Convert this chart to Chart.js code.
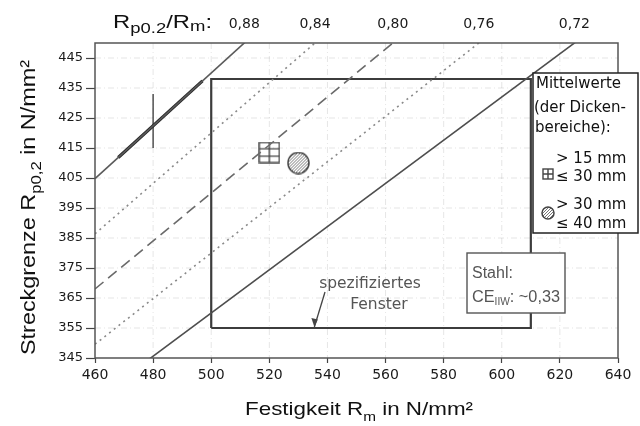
<!DOCTYPE html>
<html>
<head>
<meta charset="utf-8">
<script src="https://cdn.jsdelivr.net/npm/chart.js@4.4.1/dist/chart.umd.min.js"></script>
<style>
  html, body { margin: 0; padding: 0; background: #fff; }
  #wrap { width: 640px; height: 426px; }
</style>
</head>
<body>
<div id="wrap"><canvas id="myChart" width="640" height="426"></canvas></div>
<script>
// axis ranges and ticks
const xTicks = [460, 480, 500, 520, 540, 560, 580, 600, 620, 640];
const yTicks = [345, 355, 365, 375, 385, 395, 405, 415, 425, 435, 445];
const xMin = 460, xMax = 640, yMin = 345, yMax = 450;

// lines of constant yield ratio Rp0.2/Rm
const ratios = [0.88, 0.84, 0.80, 0.76, 0.72];
const ratioLabels = ['0,88', '0,84', '0,80', '0,76', '0,72'];

// specified window (Rm from..to, Rp0.2 from..to)
const windowRm = [500, 610];
const windowRp = [355, 438];

// mean values of the thickness ranges
const meanRm = [520, 530];
const meanRp = [413.5, 410];

// darker stretch on the 0.88 line and the short bar at 480
const boldRm = [468, 497];
const barRm = [480, 480];
const barRp = [415, 433];

const FONT = '"Liberation Sans", Arial, sans-serif';
const WIDE = '"DejaVu Sans", sans-serif';
const ratioColor = ['#5a5a5a', '#8a8a8a', '#6a6a6a', '#8a8a8a', '#4e4e4e'];
const ratioDash = [[], [2, 4], [11, 6], [2, 4], []];

// marker images
function squareIcon(s, rows) {
  const c = document.createElement('canvas');
  c.width = s; c.height = s;
  const g = c.getContext('2d');
  g.strokeStyle = '#444'; g.lineWidth = 1.4;
  g.strokeRect(1, 1, s - 2, s - 2);
  g.beginPath();
  g.moveTo(s / 2, 1); g.lineTo(s / 2, s - 1);
  for (let i = 1; i < rows; i++) {
    g.moveTo(1, s * i / rows); g.lineTo(s - 1, s * i / rows);
  }
  g.stroke();
  return c;
}
function circleIcon(s) {
  const c = document.createElement('canvas');
  c.width = s; c.height = s;
  const g = c.getContext('2d');
  const r = s / 2 - 1;
  g.save();
  g.beginPath(); g.arc(s / 2, s / 2, r, 0, Math.PI * 2); g.clip();
  g.strokeStyle = '#777'; g.lineWidth = 1;
  g.beginPath();
  for (let k = -s; k < 2 * s; k += 3) { g.moveTo(k, s); g.lineTo(k + s, 0); }
  g.stroke();
  g.restore();
  g.strokeStyle = '#444'; g.lineWidth = 1.5;
  g.beginPath(); g.arc(s / 2, s / 2, r, 0, Math.PI * 2); g.stroke();
  return c;
}
const bigSquare = squareIcon(22, 3);
const bigCircle = circleIcon(23);
const smallSquare = squareIcon(12, 2);
const smallCircle = circleIcon(14);

// text with subscripts: parts = [[text, size, dy], ...]
function richWidth(ctx, parts, family) {
  let w = 0;
  parts.forEach(p => {
    ctx.font = p[1] + 'px ' + family;
    w += ctx.measureText(p[0]).width;
  });
  return w;
}
// draws the parts stretched to the given width, starting at x
function richText(ctx, parts, family, x, y, width) {
  const w = richWidth(ctx, parts, family);
  const k = width ? width / w : 1;
  ctx.save();
  ctx.translate(x, y);
  ctx.scale(k, 1);
  let cx = 0;
  parts.forEach(p => {
    ctx.font = p[1] + 'px ' + family;
    ctx.fillText(p[0], cx, p[2] || 0);
    cx += ctx.measureText(p[0]).width;
  });
  ctx.restore();
}

const datasets = ratios.map((r, i) => ({
  type: 'line',
  data: [{x: xMin, y: r * xMin}, {x: xMax, y: r * xMax}],
  borderColor: ratioColor[i],
  borderDash: ratioDash[i],
  borderWidth: 1.6,
  pointRadius: 0,
}));

datasets.push({
  type: 'line',
  data: boldRm.map(x => ({x: x, y: ratios[0] * x})),
  borderColor: '#222', borderWidth: 3.2, pointRadius: 0,
});
datasets.push({
  type: 'line',
  data: barRm.map((x, i) => ({x: x, y: barRp[i]})),
  borderColor: '#444', borderWidth: 1.4, pointRadius: 0,
});

datasets.push({
  type: 'line',
  data: [
    {x: windowRm[0], y: windowRp[0]}, {x: windowRm[0], y: windowRp[1]},
    {x: windowRm[1], y: windowRp[1]}, {x: windowRm[1], y: windowRp[0]},
    {x: windowRm[0], y: windowRp[0]}
  ],
  borderColor: '#3c3c3c', borderWidth: 2.2, pointRadius: 0,
});

datasets.push({
  type: 'scatter',
  data: [{x: meanRm[0], y: meanRp[0]}],
  pointStyle: bigSquare, pointRadius: 11,
});
datasets.push({
  type: 'scatter',
  data: [{x: meanRm[1], y: meanRp[1]}],
  pointStyle: bigCircle, pointRadius: 11,
});

const extras = {
  id: 'extras',
  beforeDatasetsDraw(chart) {
    const {ctx, chartArea: a, scales} = chart;
    // faint grid
    ctx.save();
    ctx.strokeStyle = 'rgba(0,0,0,0.10)';
    ctx.lineWidth = 1;
    ctx.setLineDash([6, 3, 1, 3]);
    ctx.beginPath();
    xTicks.slice(1, -1).forEach(v => {
      const px = scales.x.getPixelForValue(v);
      ctx.moveTo(px, a.top); ctx.lineTo(px, a.bottom);
    });
    yTicks.slice(1).forEach(v => {
      const py = scales.y.getPixelForValue(v);
      ctx.moveTo(a.left, py); ctx.lineTo(a.right, py);
    });
    ctx.stroke();
    ctx.restore();
  },
  afterDraw(chart) {
    const {ctx, chartArea: a, scales} = chart;
    const sx = scales.x, sy = scales.y;
    ctx.save();
    // frame
    ctx.strokeStyle = '#555';
    ctx.lineWidth = 1.5;
    ctx.strokeRect(a.left, a.top, a.right - a.left, a.bottom - a.top);

    ctx.fillStyle = '#111';
    ctx.textBaseline = 'alphabetic';
    ctx.textAlign = 'left';

    // top title Rp0.2/Rm:
    richText(ctx, [['R', 18], ['p0.2', 14, 5], ['/R', 18], ['m', 14, 3], [':', 18]], FONT, 113, 28, 99);

    // x axis title
    richText(ctx, [['Festigkeit R', 19], ['m', 13, 6], [' in N/mm²', 19]], FONT, 245, 415, 228);

    // y axis title
    ctx.save();
    ctx.translate(35, 355);
    ctx.rotate(-Math.PI / 2);
    richText(ctx, [['Streckgrenze R', 21], ['p0,2', 15, 6], [' in N/mm²', 21]], FONT, 0, 0, 295);
    ctx.restore();

    // window label and arrow
    ctx.fillStyle = '#555';
    ctx.textAlign = 'center';
    ctx.font = '15.5px ' + WIDE;
    ctx.fillText('spezifiziertes', 370, 288);
    ctx.fillText('Fenster', 379, 309);
    const tipX = sx.getPixelForValue(535.5), tipY = sy.getPixelForValue(windowRp[0]);
    ctx.strokeStyle = '#444';
    ctx.lineWidth = 1.3;
    ctx.beginPath();
    ctx.moveTo(325, 292); ctx.lineTo(tipX, tipY - 1);
    ctx.stroke();
    ctx.beginPath();
    ctx.moveTo(tipX, tipY - 1);
    ctx.lineTo(tipX - 3, tipY - 10);
    ctx.lineTo(tipX + 3.5, tipY - 8.5);
    ctx.closePath();
    ctx.fillStyle = '#444';
    ctx.fill();

    // steel box
    ctx.fillStyle = '#fff';
    ctx.fillRect(467, 253, 98, 60);
    ctx.strokeStyle = '#555';
    ctx.lineWidth = 1.4;
    ctx.strokeRect(467, 253, 98, 60);
    ctx.fillStyle = '#555';
    ctx.textAlign = 'left';
    ctx.font = '16px ' + FONT;
    ctx.fillText('Stahl:', 472, 278);
    richText(ctx, [['CE', 16], ['IIW', 10, 3], [': ~0,33', 16]], FONT, 472, 302, 88);

    // legend box
    ctx.fillStyle = '#fff';
    ctx.fillRect(533, 73, 105, 160);
    ctx.strokeStyle = '#222';
    ctx.lineWidth = 1.5;
    ctx.strokeRect(533, 73, 105, 160);
    ctx.fillStyle = '#111';
    ctx.font = '15px ' + WIDE;
    ctx.fillText('Mittelwerte', 536, 88);
    ctx.fillText('(der Dicken-', 534, 112);
    ctx.fillText('bereiche):', 535, 132);
    ctx.fillText('> 15 mm', 556, 163);
    ctx.fillText('≤ 30 mm', 556, 181);
    ctx.fillText('> 30 mm', 556, 209);
    ctx.fillText('≤ 40 mm', 556, 228);
    ctx.drawImage(smallSquare, 542, 168);
    ctx.drawImage(smallCircle, 541, 206);
    ctx.restore();
  }
};

new Chart(document.getElementById('myChart'), {
  data: {datasets: datasets},
  options: {
    responsive: false,
    animation: false,
    events: [],
    layout: {padding: {left: 0, right: 22, top: 0, bottom: 0}},
    plugins: {legend: {display: false}, tooltip: {enabled: false}},
    scales: {
      x: {
        type: 'linear', position: 'bottom', min: xMin, max: xMax,
        afterBuildTicks: s => { s.ticks = xTicks.map(v => ({value: v})); },
        afterFit: s => { s.height = 68; },
        grid: {drawOnChartArea: false, tickLength: 5, tickColor: '#444', tickWidth: 1.2},
        border: {display: false},
        ticks: {font: {family: WIDE, size: 14}, color: '#1a1a1a', padding: 4, maxRotation: 0, autoSkip: false},
      },
      x2: {
        type: 'linear', position: 'top', min: xMin, max: xMax,
        afterBuildTicks: s => { s.ticks = ratios.map(r => ({value: yMax / r})); },
        afterFit: s => { s.height = 43; },
        grid: {display: false, drawTicks: false},
        border: {display: false},
        ticks: {
          font: {family: WIDE, size: 14}, color: '#1a1a1a', padding: 10, maxRotation: 0, autoSkip: false,
          callback: (v, i) => ratioLabels[i],
        },
      },
      y: {
        type: 'linear', min: yMin, max: yMax,
        afterBuildTicks: s => { s.ticks = yTicks.map(v => ({value: v})); },
        afterFit: s => { s.width = 95; },
        grid: {drawOnChartArea: false, tickLength: 9, tickColor: '#444', tickWidth: 1.2},
        border: {display: false},
        ticks: {font: {family: WIDE, size: 13}, color: '#1a1a1a', padding: 3, autoSkip: false},
      },
    },
  },
  plugins: [extras],
});
</script>
</body>
</html>
